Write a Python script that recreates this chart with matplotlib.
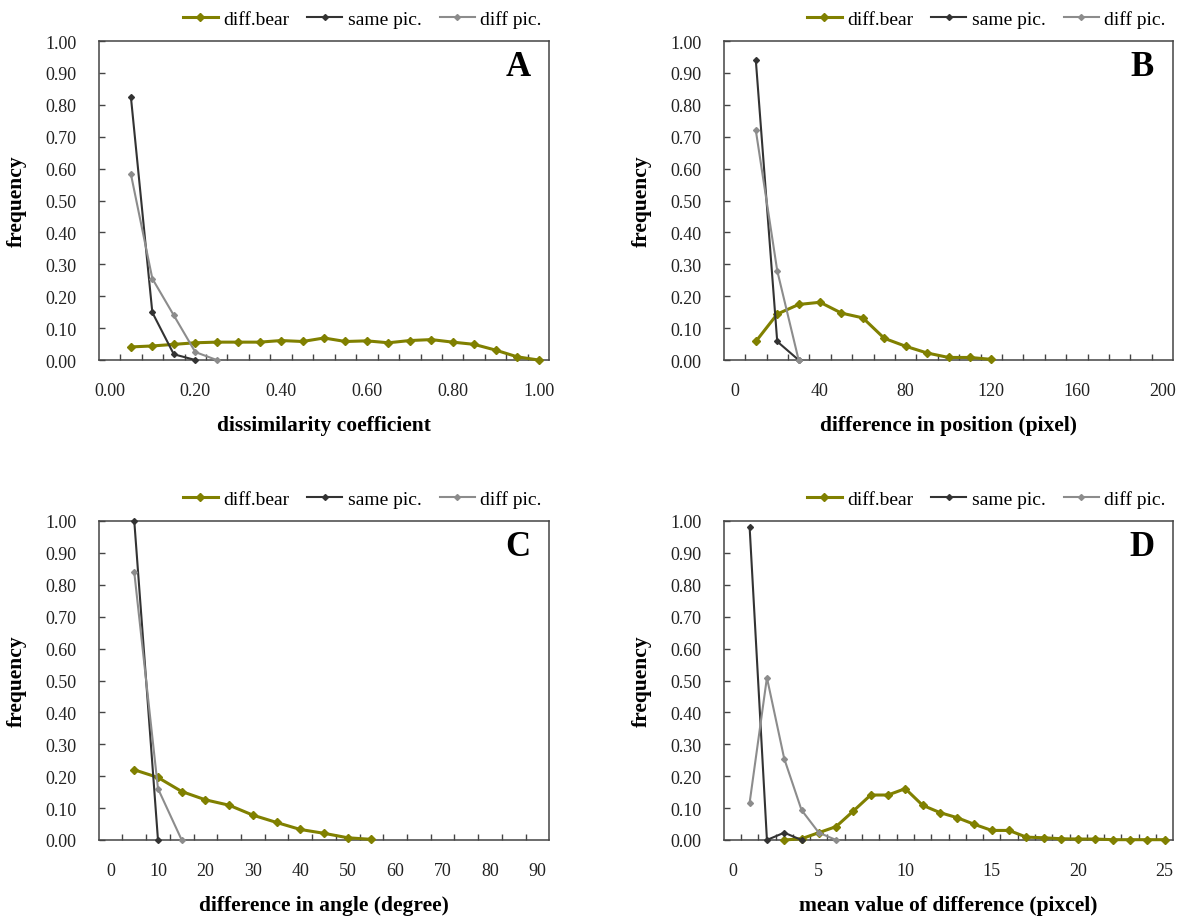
import matplotlib
matplotlib.use("Agg")
import matplotlib.pyplot as plt
from matplotlib.ticker import FixedLocator, FixedFormatter

# ---------------- data ----------------
series_names = ["diff.bear", "same pic.", "diff pic."]

# Panel A: dissimilarity coefficient
a_bear_x = [0.05, 0.10, 0.15, 0.20, 0.25, 0.30, 0.35, 0.40, 0.45, 0.50,
            0.55, 0.60, 0.65, 0.70, 0.75, 0.80, 0.85, 0.90, 0.95, 1.00]
a_bear_y = [0.041, 0.044, 0.049, 0.054, 0.056, 0.056, 0.056, 0.061, 0.058, 0.069,
            0.058, 0.060, 0.054, 0.061, 0.064, 0.056, 0.049, 0.031, 0.010, 0.000]
a_same_x = [0.05, 0.10, 0.15, 0.20]
a_same_y = [0.825, 0.149, 0.018, 0.000]
a_diff_x = [0.05, 0.10, 0.15, 0.20, 0.25]
a_diff_y = [0.583, 0.255, 0.140, 0.025, 0.000]
a_ticks = [0.0, 0.2, 0.4, 0.6, 0.8, 1.0]
a_ticklabels = ["0.00", "0.20", "0.40", "0.60", "0.80", "1.00"]

# Panel B: difference in position (pixel)
b_bear_x = [10, 20, 30, 40, 50, 60, 70, 80, 90, 100, 110, 120]
b_bear_y = [0.058, 0.144, 0.174, 0.181, 0.147, 0.132, 0.068, 0.043, 0.022, 0.008, 0.008, 0.002]
b_same_x = [10, 20, 30]
b_same_y = [0.940, 0.058, 0.000]
b_diff_x = [10, 20, 30]
b_diff_y = [0.720, 0.280, 0.000]
b_ticks = [0, 40, 80, 120, 160, 200]
b_ticklabels = ["0", "40", "80", "120", "160", "200"]

# Panel C: difference in angle (degree)
c_bear_x = [5, 10, 15, 20, 25, 30, 35, 40, 45, 50, 55]
c_bear_y = [0.220, 0.196, 0.152, 0.126, 0.109, 0.078, 0.055, 0.033, 0.021, 0.007, 0.002]
c_same_x = [5, 10]
c_same_y = [1.000, 0.000]
c_diff_x = [5, 10, 15]
c_diff_y = [0.839, 0.161, 0.000]
c_ticks = [0, 10, 20, 30, 40, 50, 60, 70, 80, 90]
c_ticklabels = ["0", "10", "20", "30", "40", "50", "60", "70", "80", "90"]

# Panel D: mean value of difference (pixcel)
d_bear_x = [3, 4, 5, 6, 7, 8, 9, 10, 11, 12, 13, 14, 15, 16, 17, 18, 19, 20, 21, 22, 23, 24, 25]
d_bear_y = [0.000, 0.004, 0.023, 0.042, 0.091, 0.141, 0.141, 0.161, 0.109, 0.086, 0.070, 0.049,
            0.030, 0.030, 0.009, 0.007, 0.004, 0.003, 0.003, 0.001, 0.001, 0.001, 0.001]
d_same_x = [1, 2, 3, 4]
d_same_y = [0.980, 0.000, 0.023, 0.000]
d_diff_x = [1, 2, 3, 4, 5, 6]
d_diff_y = [0.117, 0.509, 0.255, 0.094, 0.023, 0.000]
d_ticks = [0, 5, 10, 15, 20, 25]
d_ticklabels = ["0", "5", "10", "15", "20", "25"]

y_ticks = [0.0, 0.1, 0.2, 0.3, 0.4, 0.5, 0.6, 0.7, 0.8, 0.9, 1.0]
y_ticklabels = ["0.00", "0.10", "0.20", "0.30", "0.40", "0.50", "0.60", "0.70", "0.80", "0.90", "1.00"]

panels = [
    dict(letter="A", xlabel="dissimilarity coefficient", step=0.05, ncat=21,
         bear=(a_bear_x, a_bear_y), same=(a_same_x, a_same_y), diff=(a_diff_x, a_diff_y),
         ticks=a_ticks, labels=a_ticklabels),
    dict(letter="B", xlabel="difference in position (pixel)", step=10, ncat=21,
         bear=(b_bear_x, b_bear_y), same=(b_same_x, b_same_y), diff=(b_diff_x, b_diff_y),
         ticks=b_ticks, labels=b_ticklabels),
    dict(letter="C", xlabel="difference in angle (degree)", step=5, ncat=19,
         bear=(c_bear_x, c_bear_y), same=(c_same_x, c_same_y), diff=(c_diff_x, c_diff_y),
         ticks=c_ticks, labels=c_ticklabels),
    dict(letter="D", xlabel="mean value of difference (pixcel)", step=1, ncat=26,
         bear=(d_bear_x, d_bear_y), same=(d_same_x, d_same_y), diff=(d_diff_x, d_diff_y),
         ticks=d_ticks, labels=d_ticklabels),
]

# ---------------- style ----------------
SERIF = ["Liberation Serif", "DejaVu Serif"]
plt.rcParams["font.family"] = SERIF
C_BEAR = "#808000"
C_SAME = "#333333"
C_DIFF = "#8c8c8c"
SPINE = "#444444"

W, H = 1178, 920
fig = plt.figure(figsize=(W / 100, H / 100), dpi=100)

# axes rectangles in pixels: left, top, right, bottom
rects = [
    (98.7, 42, 549.3, 361),
    (723.7, 42, 1173.3, 361),
    (98.7, 522, 549.3, 841),
    (723.7, 522, 1173.3, 841),
]

for p, (l, t, r, b) in zip(panels, rects):
    ax = fig.add_axes([l / W, (H - b) / H, (r - l) / W, (b - t) / H])
    step = p["step"]
    ax.set_xlim(-step / 2, (p["ncat"] - 0.5) * step)
    ax.set_ylim(0, 1)

    ax.plot(*p["bear"], color=C_BEAR, lw=2.2, marker="D", ms=4.0, mec=C_BEAR, mfc=C_BEAR,
            label=series_names[0], clip_on=False, zorder=3)
    ax.plot(*p["same"], color=C_SAME, lw=1.5, marker="D", ms=3.0, mec=C_SAME, mfc=C_SAME,
            label=series_names[1], clip_on=False, zorder=4)
    ax.plot(*p["diff"], color=C_DIFF, lw=1.5, marker="D", ms=3.0, mec=C_DIFF, mfc=C_DIFF,
            label=series_names[2], clip_on=False, zorder=5)

    # x axis: labels at category centres, tick marks at category boundaries
    bounds = [(k + 0.5) * step for k in range(p["ncat"] - 1)]
    ax.xaxis.set_major_locator(FixedLocator(p["ticks"]))
    ax.xaxis.set_major_formatter(FixedFormatter(p["labels"]))
    ax.xaxis.set_minor_locator(FixedLocator(bounds))
    ax.tick_params(axis="x", which="major", length=0, pad=16, labelsize=13, labelcolor="#222222")
    ax.tick_params(axis="x", which="minor", direction="in", length=4, width=1.0, color=SPINE)

    ax.yaxis.set_major_locator(FixedLocator(y_ticks))
    ax.yaxis.set_major_formatter(FixedFormatter(y_ticklabels))
    ax.tick_params(axis="y", which="major", direction="in", length=4.5, width=1.0, color=SPINE,
                   pad=16, labelsize=13, labelcolor="#222222")

    for s in ax.spines.values():
        s.set_color(SPINE)
        s.set_linewidth(1.1)

    ax.set_xlabel(p["xlabel"], fontsize=15.5, fontweight="bold", va="top")
    ax.xaxis.set_label_coords(0.5, -0.172)
    ax.set_ylabel("frequency", fontsize=15.5, fontweight="bold")
    ax.yaxis.set_label_coords(-0.16, 0.5)

    ax.text(0.9305, 0.9216, p["letter"], transform=ax.transAxes, ha="center", va="center",
            fontsize=25, fontweight="bold")

    ax.legend(loc="center right", bbox_to_anchor=(0.982, 1.069), ncol=3, frameon=False,
              fontsize=14, handlelength=1.8, handletextpad=0.26, columnspacing=0.95,
              borderpad=0, borderaxespad=0, markerscale=1.0)

fig.savefig("out.png", dpi=100)
